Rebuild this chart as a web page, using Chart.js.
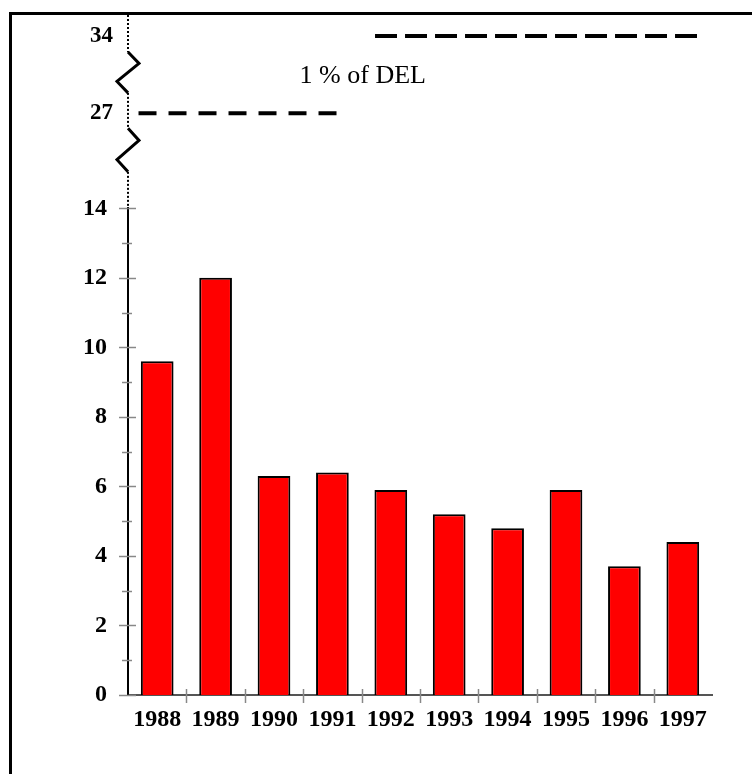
<!DOCTYPE html>
<html>
<head>
<meta charset="utf-8">
<script src="https://cdn.jsdelivr.net/npm/chart.js@4.4.1/dist/chart.umd.min.js"></script>
<style>
  html, body { margin: 0; padding: 0; background: #fff; overflow: hidden; }
  #frame { position: absolute; left: 9px; top: 12px; right: -10px; bottom: -10px; border-left: 3px solid #000; border-top: 3px solid #000; }
  #wrap { position: absolute; left: 0; top: 0; width: 752px; height: 774px; }
</style>
</head>
<body>
<div id="frame"></div>
<div id="wrap"><canvas id="chart" width="752" height="774"></canvas></div>
<script>
// data
const years = ['1988', '1989', '1990', '1991', '1992', '1993', '1994', '1995', '1996', '1997'];
const values = [9.6, 12.0, 6.3, 6.4, 5.9, 5.2, 4.8, 5.9, 3.7, 4.4];

// tick labels
const lowerTickLabels = [0, 2, 4, 6, 8, 10, 12, 14];
const upperTickLabels = [27, 34];

// "1 % of DEL" reference level, drawn in two pieces across the broken axis
const delLevels = [27, 34];
const delSpans = [[-0.32, 3.23], [3.73, 9.3]];
const delLabel = '1 % of DEL';
const delLabelAt = [3.52, 29.7];

// value ranges cut out of the upper axis (zigzag marks)
const axisBreaks = [[21.7, 25.65], [28.85, 32.55]];

const serif = '"Liberation Serif", "Times New Roman", serif';

// no label overhang padding, the layout padding handles the edges
const noPad = s => { s.paddingTop = 0; s.paddingBottom = 0; s.paddingLeft = 0; s.paddingRight = 0; };

const breakPlugin = {
  id: 'brokenAxis',
  afterDraw(chart) {
    const ctx = chart.ctx;
    const y = chart.scales.y;
    const yTop = chart.scales.yTop;
    const x = chart.scales.x;
    const xLin = chart.scales.xLin;
    const ax = chart.chartArea.left;

    ctx.save();

    // minor / major ticks on the value axis
    ctx.strokeStyle = '#888';
    ctx.lineWidth = 1.5;
    for (let v = y.min; v <= y.max; v++) {
      const py = Math.round(y.getPixelForValue(v)) + 0.5;
      const major = lowerTickLabels.includes(v);
      ctx.beginPath();
      ctx.moveTo(ax - (major ? 9 : 6), py);
      ctx.lineTo(ax + (major ? 8 : 4), py);
      ctx.stroke();
    }

    // ticks between categories
    const base = y.getPixelForValue(0);
    for (let i = 1; i < years.length; i++) {
      const px = Math.round((x.getPixelForValue(i - 1) + x.getPixelForValue(i)) / 2) + 0.5;
      ctx.beginPath();
      ctx.moveTo(px, base - 6);
      ctx.lineTo(px, base + 8);
      ctx.stroke();
    }

    // dotted upper part of the axis
    ctx.strokeStyle = '#000';
    ctx.lineWidth = 2;
    ctx.setLineDash([2, 2]);
    const stops = [yTop.max, axisBreaks[1][1], axisBreaks[1][0], axisBreaks[0][1], axisBreaks[0][0], yTop.min];
    for (let i = 0; i < stops.length; i += 2) {
      ctx.beginPath();
      ctx.moveTo(ax, yTop.getPixelForValue(stops[i]));
      ctx.lineTo(ax, yTop.getPixelForValue(stops[i + 1]));
      ctx.stroke();
    }
    ctx.setLineDash([]);

    // zigzag break marks
    ctx.lineWidth = 3;
    axisBreaks.forEach(([lo, hi]) => {
      const y1 = yTop.getPixelForValue(hi);
      const y2 = yTop.getPixelForValue(lo);
      const h = y2 - y1;
      ctx.beginPath();
      ctx.moveTo(ax, y1);
      ctx.lineTo(ax + 11, y1 + 0.28 * h);
      ctx.lineTo(ax - 11, y1 + 0.72 * h);
      ctx.lineTo(ax, y2);
      ctx.stroke();
    });

    // level label
    ctx.fillStyle = '#000';
    ctx.font = '26px ' + serif;
    ctx.textAlign = 'center';
    ctx.textBaseline = 'alphabetic';
    ctx.fillText(delLabel, xLin.getPixelForValue(delLabelAt[0]), yTop.getPixelForValue(delLabelAt[1]));

    ctx.restore();
  }
};

const ctx = document.getElementById('chart').getContext('2d');

new Chart(ctx, {
  type: 'bar',
  data: {
    labels: years,
    datasets: [
      {
        data: values,
        backgroundColor: '#ff0000',
        borderColor: '#000',
        borderWidth: 2,
        borderSkipped: 'start',
        grouped: false,
        barPercentage: 0.56,
        categoryPercentage: 1,
        xAxisID: 'x',
        yAxisID: 'y'
      },
      ...delLevels.map((lvl, i) => ({
        type: 'line',
        data: delSpans[i].map(v => ({ x: v, y: lvl })),
        borderColor: '#000',
        borderWidth: 4,
        borderDash: i === 0 ? [18, 12] : [22, 8],
        pointRadius: 0,
        fill: false,
        xAxisID: 'xLin',
        yAxisID: 'yTop'
      }))
    ]
  },
  options: {
    responsive: false,
    animation: false,
    devicePixelRatio: 1,
    layout: { padding: { top: 15, right: 40, bottom: 0, left: 0 } },
    plugins: {
      legend: { display: false },
      tooltip: { enabled: false }
    },
    scales: {
      x: {
        type: 'category',
        offset: true,
        grid: { display: false, drawTicks: false },
        border: { color: '#555', width: 2 },
        ticks: {
          color: '#000',
          font: { family: serif, size: 24, weight: 'bold' },
          padding: 10,
          maxRotation: 0,
          autoSkip: false
        },
        afterFit: s => { s.height = 79; noPad(s); }
      },
      xLin: {
        type: 'linear',
        display: false,
        offset: false,
        grid: { offset: false },
        min: -0.5,
        max: 9.5
      },
      y: {
        type: 'linear',
        position: 'left',
        stack: 'v',
        stackWeight: 486.7,
        min: 0,
        max: 14,
        grid: { display: false, drawTicks: false },
        border: { color: '#000', width: 2 },
        ticks: {
          stepSize: 1,
          autoSkip: false,
          color: '#000',
          padding: 21,
          font: { family: serif, size: 24, weight: 'bold' },
          callback: v => lowerTickLabels.includes(v) ? v : ''
        },
        afterFit: s => { s.width = 128; noPad(s); }
      },
      yTop: {
        type: 'linear',
        position: 'left',
        stack: 'v',
        stackWeight: 193.3,
        min: 18.4,
        max: 35.9,
        grid: { display: false, drawTicks: false },
        border: { display: false },
        afterBuildTicks: s => { s.ticks = upperTickLabels.map(v => ({ value: v })); },
        ticks: {
          color: '#000',
          padding: 15,
          font: { family: serif, size: 23, weight: 'bold' }
        },
        afterFit: s => { s.width = 128; noPad(s); }
      }
    }
  },
  plugins: [breakPlugin]
});
</script>
</body>
</html>
